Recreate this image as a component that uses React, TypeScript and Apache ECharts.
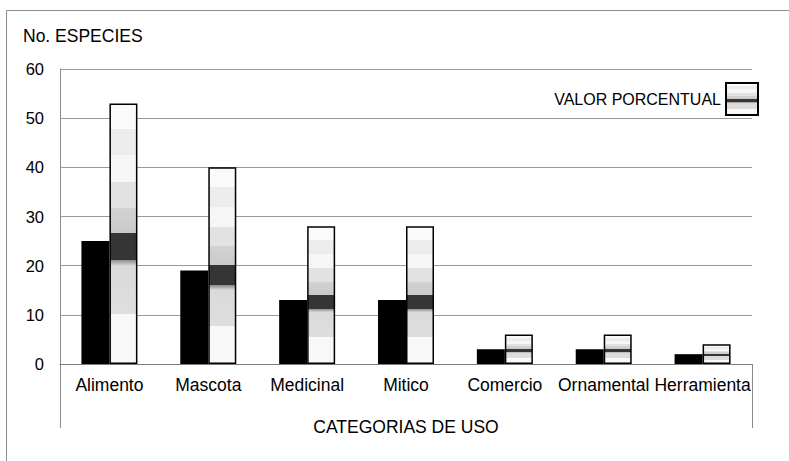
import React, { useEffect, useRef } from "react";
import * as echarts from "echarts";

const categories = ["Alimento", "Mascota", "Medicinal", "Mitico", "Comercio", "Ornamental", "Herramienta"];
const especies = [25, 19, 13, 13, 3, 3, 2];
const valorPorcentual = [53, 40, 28, 28, 6, 6, 4];
const yTicks = { min: 0, max: 60, interval: 10 };

const FONT = "'Liberation Sans', Arial, sans-serif";

export default function App() {
  const ref = useRef<HTMLDivElement>(null);
  useEffect(() => {
    if (!ref.current) return;
    const chart = echarts.init(ref.current, null, { renderer: "svg" });
    const grad = new echarts.graphic.LinearGradient(0, 0, 0, 1, [
      { offset: 0, color: "#fafafa" },
      { offset: 0.096, color: "#fafafa" },
      { offset: 0.096, color: "#ececec" },
      { offset: 0.198, color: "#ececec" },
      { offset: 0.198, color: "#f6f6f6" },
      { offset: 0.3, color: "#f6f6f6" },
      { offset: 0.3, color: "#e2e2e2" },
      { offset: 0.4, color: "#e2e2e2" },
      { offset: 0.4, color: "#d2d2d2" },
      { offset: 0.498, color: "#cacaca" },
      { offset: 0.498, color: "#353535" },
      { offset: 0.6, color: "#353535" },
      { offset: 0.6, color: "#8a8a8a" },
      { offset: 0.625, color: "#dadada" },
      { offset: 0.81, color: "#dedede" },
      { offset: 0.81, color: "#f8f8f8" },
      { offset: 1, color: "#f8f8f8" },
    ]);
    chart.setOption({
      animation: false,
      textStyle: { fontFamily: FONT, color: "#000" },
      graphic: [
        {
          type: "rect",
          shape: { x: 6.5, y: 10.5, width: 900, height: 600 },
          style: { fill: "none", stroke: "#8c8c8c", lineWidth: 1 },
          silent: true,
          z: -10,
        },
        {
          type: "text",
          left: 23,
          top: 27,
          style: { text: "No. ESPECIES", fontSize: 17.5, fontFamily: FONT, fill: "#000" },
        },
        {
          type: "line",
          shape: { x1: 60.5, y1: 364, x2: 60.5, y2: 428 },
          style: { stroke: "#8c8c8c", lineWidth: 1 },
        },
        {
          type: "line",
          shape: { x1: 752.5, y1: 364, x2: 752.5, y2: 428 },
          style: { stroke: "#8c8c8c", lineWidth: 1 },
        },
      ],
      legend: {
        data: ["VALOR PORCENTUAL"],
        align: "right",
        right: 25,
        top: 77,
        itemWidth: 32,
        itemHeight: 32,
        icon: "rect",
        textStyle: { fontSize: 16, fontFamily: FONT, color: "#000" },
      },
      grid: { left: 60, right: 37, top: 69, bottom: 97 },
      xAxis: {
        type: "category",
        data: categories,
        name: "CATEGORIAS DE USO",
        nameLocation: "middle",
        nameGap: 54,
        nameTextStyle: { fontSize: 17.5, fontFamily: FONT, color: "#000" },
        axisLine: { lineStyle: { color: "#7a7a7a", width: 1 } },
        axisTick: { show: false },
        axisLabel: { fontSize: 17.5, fontFamily: FONT, color: "#000", margin: 12, interval: 0 },
      },
      yAxis: {
        type: "value",
        min: yTicks.min,
        max: yTicks.max,
        interval: yTicks.interval,
        axisLine: { show: true, lineStyle: { color: "#8c8c8c", width: 1 } },
        axisTick: { show: false },
        axisLabel: { fontSize: 16.5, fontFamily: FONT, color: "#000", margin: 16 },
        splitLine: { lineStyle: { color: "#999", width: 1 } },
      },
      series: [
        {
          name: "No. ESPECIES",
          type: "bar",
          data: especies,
          barWidth: 28,
          barGap: "0%",
          itemStyle: { color: "#000" },
        },
        {
          name: "VALOR PORCENTUAL",
          type: "bar",
          data: valorPorcentual,
          barWidth: 28,
          barGap: "0%",
          itemStyle: { color: grad, borderColor: "#000", borderWidth: 1.5 },
        },
      ],
    });
    return () => chart.dispose();
  }, []);
  return <div ref={ref} style={{ width: 789, height: 461, position: "absolute", left: 0, top: 0 }} />;
}
